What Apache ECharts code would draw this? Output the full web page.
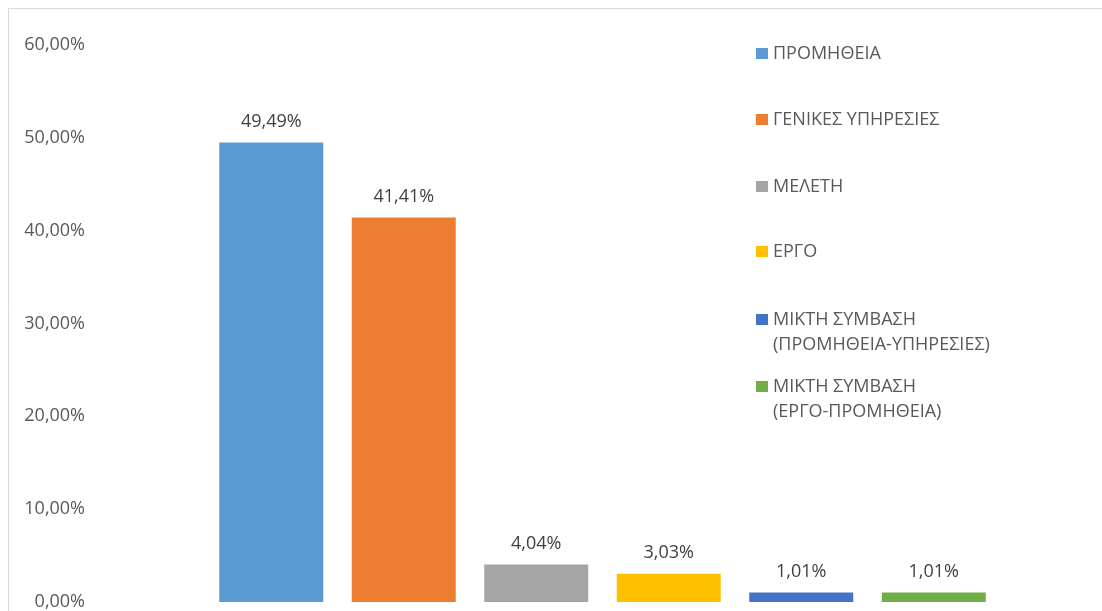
<!DOCTYPE html>
<html>
<head>
<meta charset="utf-8">
<script src="https://cdn.jsdelivr.net/npm/echarts@6/dist/echarts.min.js"></script>
<style>
  html, body { margin: 0; padding: 0; background: #fff; }
  #main { width: 1102px; height: 611px; }
</style>
</head>
<body>
<div id="main"></div>
<script>
var categories = ['ΠΡΟΜΗΘΕΙΑ', 'ΓΕΝΙΚΕΣ ΥΠΗΡΕΣΙΕΣ', 'ΜΕΛΕΤΗ', 'ΕΡΓΟ',
  'ΜΙΚΤΗ ΣΥΜΒΑΣΗ\n(ΠΡΟΜΗΘΕΙΑ-ΥΠΗΡΕΣΙΕΣ)', 'ΜΙΚΤΗ ΣΥΜΒΑΣΗ\n(ΕΡΓΟ-ΠΡΟΜΗΘΕΙΑ)'];
var values = [49.49, 41.41, 4.04, 3.03, 1.01, 1.01];
var colors = ['#5B9BD5', '#ED7D31', '#A5A5A5', '#FFC000', '#4472C4', '#70AD47'];
var legendTops = [41, 107, 174, 239, 282, 349];

function pct(v) {
  return v.toFixed(2).replace('.', ',') + '%';
}

var myChart = echarts.init(document.getElementById('main'));

var series = categories.map(function (name, i) {
  return {
    name: name,
    type: 'bar',
    stack: 'all',
    barWidth: 104,
    itemStyle: { color: colors[i] },
    label: {
      show: true,
      position: 'top',
      distance: 12,
      color: '#404040',
      fontSize: 18,
      fontFamily: 'Open Sans',
      formatter: function (p) { return pct(p.value); }
    },
    data: categories.map(function (c, j) { return j === i ? values[i] : '-'; })
  };
});

// one legend per item so each can sit where it is in the picture
var legends = categories.map(function (name, i) {
  return {
    data: [name],
    orient: 'vertical',
    left: 756,
    top: legendTops[i],
    padding: 0,
    selectedMode: false,
    itemWidth: 12,
    itemHeight: 11,
    itemGap: 0,
    icon: 'rect',
    // leading blank line keeps the square level with the first line
    formatter: function (n) { return n.indexOf('\n') >= 0 ? '\n' + n : n; },
    textStyle: {
      color: '#595959',
      fontSize: 18,
      fontFamily: 'Open Sans',
      lineHeight: 25
    }
  };
});

var option = {
  animation: false,
  graphic: [{
    type: 'rect',
    shape: { x: 8.5, y: 8.5, width: 1200, height: 700 },
    style: { fill: 'none', stroke: '#d9d9d9', lineWidth: 1 }
  }],
  legend: legends,
  grid: { left: 205, right: 102, top: 45, bottom: 7 },
  xAxis: {
    type: 'category',
    data: categories,
    axisLine: { show: false },
    axisTick: { show: false },
    axisLabel: { show: false }
  },
  yAxis: {
    type: 'value',
    min: 0,
    max: 60,
    interval: 10,
    splitLine: { show: false },
    axisLine: { show: false },
    axisTick: { show: false },
    axisLabel: {
      margin: 120,
      color: '#595959',
      fontSize: 18,
      fontFamily: 'Open Sans',
      formatter: function (v) { return pct(v); }
    }
  },
  series: series
};

myChart.setOption(option);
</script>
</body>
</html>
